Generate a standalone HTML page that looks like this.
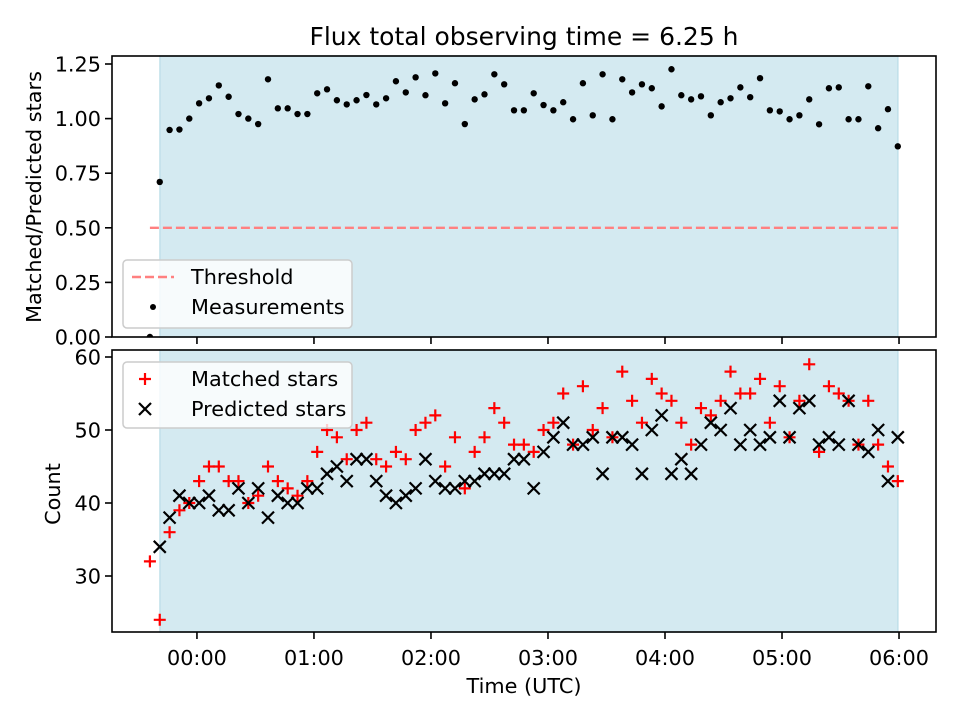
<!DOCTYPE html>
<html><head><meta charset="utf-8"><style>
html,body{margin:0;padding:0;background:#fff;}
svg{display:block;font-family:"DejaVu Sans","Liberation Sans",sans-serif;}
</style></head><body>
<svg id="chart" width="960" height="720" viewBox="0 0 960 720">
<defs>
<clipPath id="clipTop"><rect x="112" y="56" width="824" height="281"/></clipPath>
<clipPath id="clipBot"><rect x="112" y="350" width="824" height="282"/></clipPath>
</defs>
<rect x="0" y="0" width="960" height="720" fill="#fff"/>
<text x="524" y="45" text-anchor="middle" font-size="25" fill="#000">Flux total observing time = 6.25 h</text>
<g id="topPanel"></g>
<g id="botPanel"></g>
<text x="524" y="693" text-anchor="middle" font-size="20.8" fill="#000">Time (UTC)</text>
<text transform="translate(41,197) rotate(-90)" text-anchor="middle" font-size="20.8" fill="#000">Matched/Predicted stars</text>
<text transform="translate(60,494) rotate(-90)" text-anchor="middle" font-size="20.8" fill="#000">Count</text>
</svg>
<script>
const startHour = -0.402;
const cadenceHour = 0.0841;
const ratioValues = [0,0.71,0.948,0.95,1.0,1.07,1.093,1.152,1.10,1.021,1.0,0.975,1.18,1.047,1.047,1.021,1.021,1.116,1.134,1.084,1.065,1.084,1.108,1.065,1.093,1.171,1.12,1.189,1.107,1.207,1.07,1.162,0.975,1.088,1.111,1.203,1.157,1.038,1.038,1.116,1.062,1.038,1.075,0.997,1.162,1.015,1.203,0.997,1.18,1.12,1.157,1.139,1.056,1.226,1.107,1.088,1.102,1.015,1.075,1.093,1.143,1.098,1.185,1.038,1.033,0.997,1.015,1.088,0.974,1.139,1.143,0.997,0.997,1.148,0.956,1.043,0.873];
const matchedStars = [32,24,36,39,40,43,45,45,43,43,40,41,45,43,42,41,43,47,50,49,46,50,51,46,45,47,46,50,51,52,45,49,42,47,49,53,51,48,48,47,50,51,55,48,56,50,53,49,58,54,51,57,55,54,51,48,53,52,54,58,55,55,57,51,56,49,54,59,47,56,55,54,48,54,48,45,43];
const predictedStars = [null,34,38,41,40,40,41,39,39,42,40,42,38,41,40,40,42,42,44,45,43,46,46,43,41,40,41,42,46,43,42,42,43,43,44,44,44,46,46,42,47,49,51,48,48,49,44,49,49,48,44,50,52,44,46,44,48,51,50,53,48,50,48,49,54,49,53,54,48,49,48,54,48,47,50,43,49];
const xTickHours = [0,1,2,3,4,5,6];
const xTickLabels = ["00:00","01:00","02:00","03:00","04:00","05:00","06:00"];
const topTicks = [0,0.25,0.5,0.75,1.0,1.25];
const topTickLabels = ["0.00","0.25","0.50","0.75","1.00","1.25"];
const botTicks = [30,40,50,60];
const botTickLabels = ["30","40","50","60"];
const threshold = 0.5;
const spanStart = -0.316, spanEnd = 5.99;
const threshStart = -0.402, threshEnd = 5.99;

const NS = "http://www.w3.org/2000/svg";
const X0 = 112, X1 = 936, H0 = -0.726, H1 = 6.316;
function xs(h){ return X0 + (h - H0) / (H1 - H0) * (X1 - X0); }
function yTop(v){ return 337 - v * 218.4; }
function yBot(v){ return 357 + (60 - v) * 7.3; }
function mk(tag, attrs, parent){
  const e = document.createElementNS(NS, tag);
  for (const k in attrs) e.setAttribute(k, attrs[k]);
  parent.appendChild(e);
  return e;
}
const times = ratioValues.map((_, i) => startHour + i * cadenceHour);
const topG = document.getElementById('topPanel');
const botG = document.getElementById('botPanel');

function panel(g, y0, y1, clipId, name){
  const s = mk('rect', {x: xs(spanStart), y: y0, width: xs(spanEnd) - xs(spanStart), height: y1 - y0, fill: '#d4eaf1', stroke: '#c0e0ea', 'stroke-width': 1.5}, g);
  
  
  const c = mk('g', {'clip-path': 'url(#' + clipId + ')'}, g);
  return c;
}
function frame(g, y0, y1, name){
  const f = mk('rect', {x: X0, y: y0, width: X1 - X0, height: y1 - y0, fill: 'none', stroke: '#000', 'stroke-width': 1.6}, g);
  
  
  xTickHours.forEach((h) => {
    const t = mk('line', {x1: xs(h), x2: xs(h), y1: y1, y2: y1 + 7, stroke: '#000', 'stroke-width': 1.6}, g);
    
    
  });
}
function yTicks(g, ticks, labels, fy, name){
  ticks.forEach((v, i) => {
    const y = fy(v);
    const t = mk('line', {x1: X0 - 7, x2: X0, y1: y, y2: y, stroke: '#000', 'stroke-width': 1.6}, g);
    
    
    const tx = mk('text', {x: X0 - 11, y: y + 7.5, 'text-anchor': 'end', 'font-size': 20.8, fill: '#000'}, g);
    tx.textContent = labels[i];
    
    
  });
}
function plus(g, x, y, col){
  return mk('path', {d: `M${x-6},${y}H${x+6}M${x},${y-6}V${y+6}`, stroke: col, 'stroke-width': 2.2, fill: 'none'}, g);
}
function cross(g, x, y, col){
  return mk('path', {d: `M${x-6},${y-6}L${x+6},${y+6}M${x-6},${y+6}L${x+6},${y-6}`, stroke: col, 'stroke-width': 2.2, fill: 'none'}, g);
}

// top panel
const ct = panel(topG, 56, 337, 'clipTop', 'top');
const th = mk('line', {x1: xs(threshStart), x2: xs(threshEnd), y1: yTop(threshold), y2: yTop(threshold), stroke: '#ff8080', 'stroke-width': 2.4, 'stroke-dasharray': '9,4'}, ct);


ratioValues.forEach((v, i) => {
  const d = mk('circle', {cx: xs(times[i]), cy: yTop(v), r: 3.2, fill: '#000'}, ct);
  
  
});
frame(topG, 56, 337, 'top');
yTicks(topG, topTicks, topTickLabels, yTop, 'top');

// bottom panel
const cb = panel(botG, 350, 632, 'clipBot', 'bottom');
matchedStars.forEach((v, i) => {
  if (v === null) return;
  const p = plus(cb, xs(times[i]), yBot(v), '#ff0000');
  
  
});
predictedStars.forEach((v, i) => {
  if (v === null) return;
  const p = cross(cb, xs(times[i]), yBot(v), '#000');
  
  
});
frame(botG, 350, 632, 'bottom');
yTicks(botG, botTicks, botTickLabels, yBot, 'bottom');
xTickHours.forEach((h, i) => {
  const tx = mk('text', {x: xs(h), y: 665, 'text-anchor': 'middle', 'font-size': 20.8, fill: '#000'}, botG);
  tx.textContent = xTickLabels[i];
  
  
});

// legends
function legend(g, y, h, name){
  const r = mk('rect', {x: 123, y: y, width: 229, height: h, rx: 4, fill: 'rgba(255,255,255,0.8)', stroke: '#cccccc', 'stroke-width': 1.5}, g);
  
  
}
legend(topG, 260, 68, 'top-legend');
const l1 = mk('line', {x1: 132, x2: 174, y1: 277, y2: 277, stroke: '#ff8080', 'stroke-width': 2.4, 'stroke-dasharray': '9,4'}, topG);


const lt1 = mk('text', {x: 191, y: 284, 'font-size': 20.8, fill: '#000'}, topG);
lt1.textContent = 'Threshold';


const l2 = mk('circle', {cx: 153, cy: 307, r: 3, fill: '#000'}, topG);


const lt2 = mk('text', {x: 191, y: 314, 'font-size': 20.8, fill: '#000'}, topG);
lt2.textContent = 'Measurements';



legend(botG, 362, 66, 'bottom-legend');
const l3 = plus(botG, 145, 379, '#ff0000');


const lt3 = mk('text', {x: 191, y: 386, 'font-size': 20.8, fill: '#000'}, botG);
lt3.textContent = 'Matched stars';


const l4 = cross(botG, 145, 409, '#000');


const lt4 = mk('text', {x: 191, y: 416, 'font-size': 20.8, fill: '#000'}, botG);
lt4.textContent = 'Predicted stars';


</script>
</body></html>
